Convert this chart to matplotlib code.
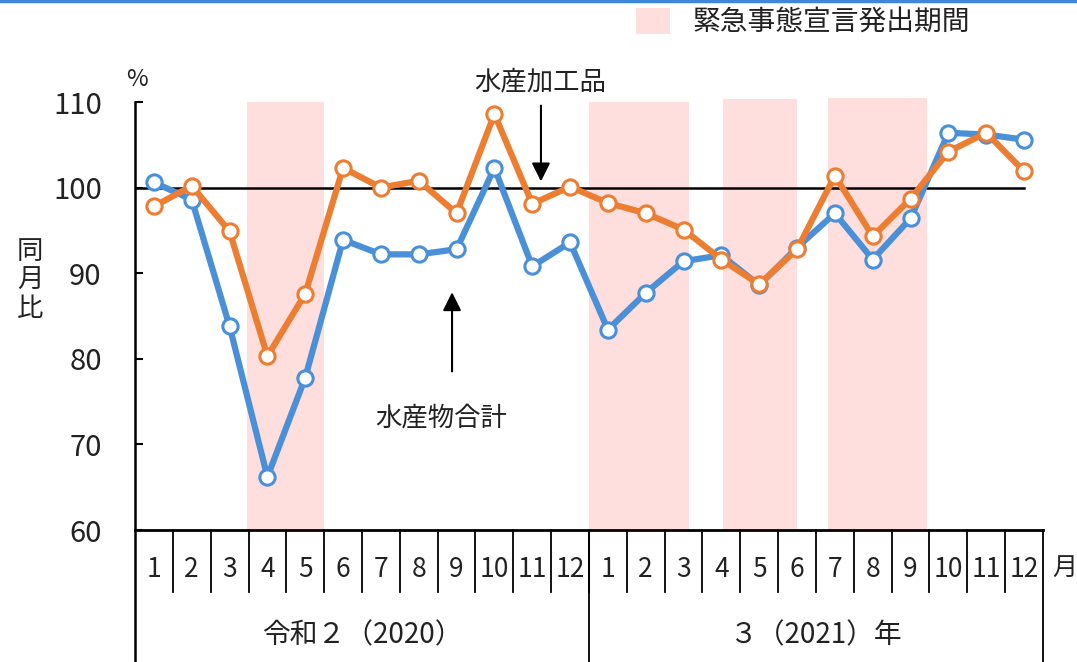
import numpy as np
import matplotlib.pyplot as plt
from matplotlib.patches import Rectangle
from matplotlib.lines import Line2D
import matplotlib.transforms as mtransforms

plt.rcParams['font.family'] = ['Noto Sans CJK JP', 'DejaVu Sans']

# データ(前年同月比, %)
months = [str(m) for m in range(1, 13)] * 2
years = ['令和２（2020）', '３（2021）年']
total = [100.6, 98.6, 83.8, 66.2, 77.8, 93.9, 92.2, 92.2, 92.8, 102.3, 90.8, 93.6,
         83.4, 87.7, 91.4, 92.1, 88.6, 93.0, 97.0, 91.6, 96.4, 106.4, 106.2, 105.6]
processed = [97.8, 100.2, 94.9, 80.3, 87.6, 102.3, 100.0, 100.8, 97.0, 108.6, 98.1, 100.1,
             98.2, 97.0, 95.1, 91.6, 88.7, 92.8, 101.4, 94.3, 98.7, 104.2, 106.4, 101.9]
# 緊急事態宣言の期間 (月インデックス, 開始/終了)
emerg_start = [2.95, 12.0, 15.53, 18.33]
emerg_end = [5.0, 14.65, 17.5, 20.93]
emerg_top = [110.0, 110.0, 110.3, 110.5]

BLUE = '#4A90D9'
ORANGE = '#ED7D31'
PINK = '#FFDEDE'
TXT = '#222222'

fig = plt.figure(figsize=(10.77, 6.62), dpi=100)
ax = fig.add_axes([135 / 1077, 1 - 530 / 662, 908 / 1077, 428 / 662])
ax.set_xlim(0, 24)
ax.set_ylim(60, 110)

x = np.arange(24) + 0.5

for s, e, t in zip(emerg_start, emerg_end, emerg_top):
    ax.add_patch(Rectangle((s, 60), e - s, t - 60, facecolor=PINK, edgecolor='none',
                           zorder=0, clip_on=False))

ax.plot([0, x[-1]], [100, 100], color='black', lw=1.8, zorder=1)

ax.plot(x, total, color=BLUE, lw=4.5, marker='o', ms=11, mfc='white', mec=BLUE,
        mew=2.2, zorder=3)
ax.plot(x, processed, color=ORANGE, lw=4.5, marker='o', ms=11, mfc='white', mec=ORANGE,
        mew=2.2, zorder=4)

# 軸
for side in ['top', 'right', 'left']:
    ax.spines[side].set_visible(False)
ax.spines['bottom'].set_linewidth(2)
ax.set_yticks([60, 70, 80, 90, 100, 110])
ax.tick_params(axis='y', direction='in', length=6, width=1.5, labelsize=21,
               labelcolor=TXT, pad=24)
ax.set_xticks([])

# 左の縦線と下の表
tr = mtransforms.blended_transform_factory(ax.transData, ax.transAxes)
ax.add_line(Line2D([0, 0], [1, -0.32], transform=tr, color='black', lw=1.8, clip_on=False))
ax.add_line(Line2D([12, 12], [0, -0.32], transform=tr, color='black', lw=1.3, clip_on=False))
ax.add_line(Line2D([24, 24], [0, -0.32], transform=tr, color='black', lw=1.3, clip_on=False))
for i in range(1, 24):
    ax.add_line(Line2D([i, i], [0, -0.145], transform=tr, color='black', lw=1.3, clip_on=False))

for xi, m in zip(x, months):
    ax.text(xi, -0.093, m, transform=tr, ha='center', va='center', fontsize=19, color=TXT)
ax.text(6, -0.245, years[0], transform=tr, ha='center', va='center', fontsize=20, color=TXT)
ax.text(18, -0.245, years[1], transform=tr, ha='center', va='center', fontsize=20, color=TXT)

fig.text(1065 / 1077, 1 - 568 / 662, '月', ha='center', va='center', fontsize=18, color=TXT)
fig.text(137 / 1077, 1 - 80 / 662, '%', ha='center', va='center', fontsize=17, color=TXT)
fig.text(30 / 1077, 1 - 280 / 662, '同\n月\n比', ha='center', va='center', fontsize=19,
         color=TXT, linespacing=1.05)

# 注記
ax.annotate('', xy=(10.73, 100.4), xytext=(10.73, 109.9),
            arrowprops=dict(arrowstyle='-|>', mutation_scale=28, color='black', lw=1.5),
            annotation_clip=False)
ax.text(10.7, 112.3, '水産加工品', ha='center', va='center', fontsize=19, color=TXT, clip_on=False)
ax.annotate('', xy=(8.38, 88.1), xytext=(8.38, 78.2),
            arrowprops=dict(arrowstyle='-|>', mutation_scale=28, color='black', lw=1.5),
            annotation_clip=False)
ax.text(8.1, 73.1, '水産物合計', ha='center', va='center', fontsize=19, color=TXT)

# 凡例
fig.patches.append(Rectangle((636 / 1077, 1 - 34 / 662), 34 / 1077, 26 / 662,
                             transform=fig.transFigure, facecolor=PINK, edgecolor='none'))
fig.text(693 / 1077, 1 - 22 / 662, '緊急事態宣言発出期間', ha='left', va='center',
         fontsize=20, color=TXT)

# 上端の青線
fig.add_artist(Line2D([0, 1], [0.998, 0.998], transform=fig.transFigure, color='#3F87D8', lw=2.5))

fig.savefig('out.png', dpi=100)
